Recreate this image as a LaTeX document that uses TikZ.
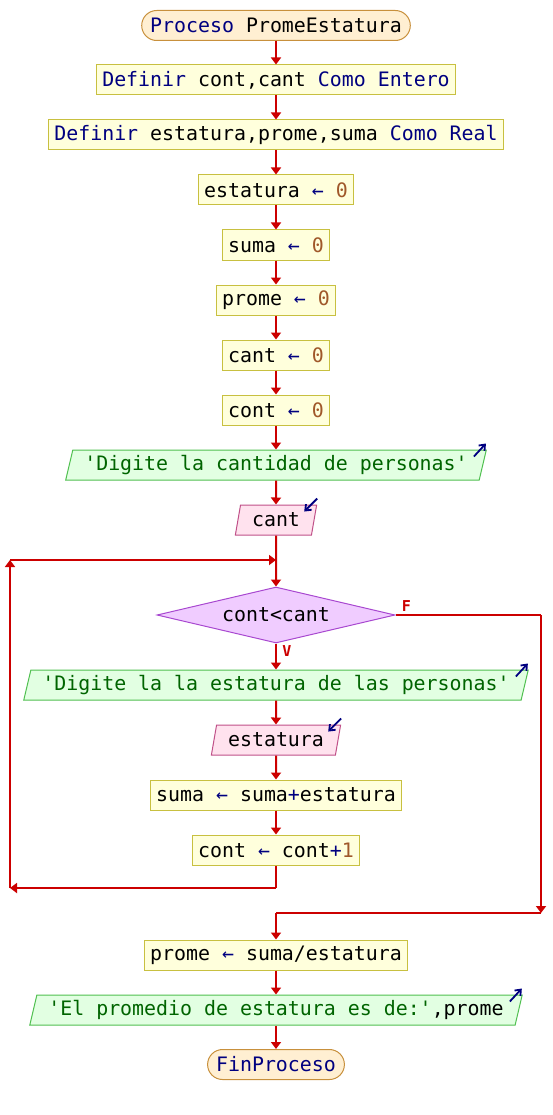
\documentclass[tikz,border=0pt]{standalone}
\usepackage{fontspec}
\setmonofont{DejaVu Sans Mono}
\usetikzlibrary{arrows.meta,shapes.geometric}

\definecolor{rojoflecha}{HTML}{CC0000}
\definecolor{azulkw}{HTML}{000080}
\definecolor{verdecad}{HTML}{006400}
\definecolor{marronnro}{HTML}{A0582A}
\definecolor{procfondo}{HTML}{FFEFD2}
\definecolor{procborde}{HTML}{C8903C}
\definecolor{asigfondo}{HTML}{FFFFDC}
\definecolor{asigborde}{HTML}{C8C040}
\definecolor{salfondo}{HTML}{E2FFE2}
\definecolor{salborde}{HTML}{50C050}
\definecolor{entfondo}{HTML}{FFE2EE}
\definecolor{entborde}{HTML}{C05088}
\definecolor{decfondo}{HTML}{F0CCFF}
\definecolor{decborde}{HTML}{A848D0}

\newcommand{\kw}[1]{\textcolor{azulkw}{#1}}
\newcommand{\cad}[1]{\textcolor{verdecad}{#1}}
\newcommand{\nro}[1]{\textcolor{marronnro}{#1}}
\newcommand{\asig}{\textcolor{azulkw}{←}}
\newcommand{\cita}{\textquotesingle}

\tikzset{
  base/.style={font=\ttfamily\fontsize{19.9}{24}\selectfont, minimum height=30pt,
    inner xsep=6pt, inner ysep=0pt, line width=1pt},
  proceso/.style={base, inner xsep=8.5pt, rounded corners=15pt, draw=procborde, fill=procfondo},
  asigna/.style={base, draw=asigborde, fill=asigfondo},
  paralelo/.style={base, trapezium, trapezium left angle=70, trapezium right angle=110,
    trapezium stretches body, inner xsep=11.5pt},
  salida/.style={paralelo, draw=salborde, fill=salfondo},
  entrada/.style={paralelo, draw=entborde, fill=entfondo},
  decision/.style={base, diamond, aspect=4.25, minimum width=238pt, minimum height=56pt,
    inner sep=0pt, draw=decborde, fill=decfondo},
  linea/.style={draw=rojoflecha, line width=2pt},
  flecha/.style={linea, -{Triangle[length=7pt,width=10pt]}},
  indica/.style={draw=azulkw, line width=1.8pt, -{Straight Barb[length=5pt,width=8pt]}},
  rotulo/.style={text=rojoflecha, font=\ttfamily\bfseries\fontsize{15}{17}\selectfont}
}

\begin{document}
\begin{tikzpicture}[x=1pt, y=-1pt]
    \useasboundingbox (0,0) rectangle (552,1115);

    % --- Cabecera y definiciones ---
    \node[proceso] (ini) at (276,25.5) {\kw{Proceso} PromeEstatura};
    \node[asigna] (def1) at (276,80) {\kw{Definir} cont,cant \kw{Como Entero}};
    \node[asigna] (def2) at (276,135) {\kw{Definir} estatura,prome,suma \kw{Como Real}};

    % --- Inicializaciones ---
    \node[asigna] (a1) at (276,190) {estatura \asig{} \nro{0}};
    \node[asigna] (a2) at (276,245) {suma \asig{} \nro{0}};
    \node[asigna] (a3) at (276,300) {prome \asig{} \nro{0}};
    \node[asigna] (a4) at (276,355) {cant \asig{} \nro{0}};
    \node[asigna] (a5) at (276,410) {cont \asig{} \nro{0}};

    % --- Lectura de la cantidad ---
    \node[salida] (s1) at (276,465) {\cad{\cita Digite la cantidad de personas\cita}};
    \node[entrada] (e1) at (276,520) {cant};

    % --- Ciclo Mientras ---
    \node[decision] (cond) at (276,615) {cont<cant};
    \node[salida] (s2) at (276,685) {\cad{\cita Digite la la estatura de las personas\cita}};
    \node[entrada] (e2) at (276,740) {estatura};
    \node[asigna] (a6) at (276,795) {suma \asig{} suma\kw{+}estatura};
    \node[asigna] (a7) at (276,850) {cont \asig{} cont\kw{+}\nro{1}};

    % --- Final ---
    \node[asigna] (a8) at (276,955) {prome \asig{} suma/estatura};
    \node[salida] (s3) at (276,1010) {\cad{\cita El promedio de estatura es de:\cita},prome};
    \node[proceso] (fin) at (276,1064.5) {\kw{FinProceso}};

    % Indicadores de entrada / salida
    \draw[indica] ([shift={(-13,7)}]s1.top right corner) -- ++(12,-13);
    \draw[indica] ([shift={(-13,7)}]s2.top right corner) -- ++(12,-13);
    \draw[indica] ([shift={(-13,7)}]s3.top right corner) -- ++(12,-13);
    \draw[indica] ([shift={(0,-6)}]e1.top right corner) -- ++(-13,13);
    \draw[indica] ([shift={(0,-6)}]e2.top right corner) -- ++(-13,13);

    % --- Flechas principales ---
    \draw[flecha] (ini) -- (def1);
    \draw[flecha] (def1) -- (def2);
    \draw[flecha] (def2) -- (a1);
    \draw[flecha] (a1) -- (a2);
    \draw[flecha] (a2) -- (a3);
    \draw[flecha] (a3) -- (a4);
    \draw[flecha] (a4) -- (a5);
    \draw[flecha] (a5) -- (s1);
    \draw[flecha] (s1) -- (e1);
    \draw[flecha] (e1) -- (cond);
    \draw[flecha] (cond) -- (s2) node[rotulo, pos=0.3, right=2pt] {V};
    \draw[flecha] (s2) -- (e2);
    \draw[flecha] (e2) -- (a6);
    \draw[flecha] (a6) -- (a7);
    \draw[flecha] (a8) -- (s3);
    \draw[flecha] (s3) -- (fin);

    % Retorno del ciclo
    \coordinate (retA) at (276,888);
    \coordinate (retB) at (10,888);
    \coordinate (retC) at (10,560);
    \coordinate (lazo) at (276,560);
    \draw[linea] (a7) -- (retA);
    \draw[flecha] (retA) -- (retB);
    \draw[flecha] (retB) -- (retC);
    \draw[flecha] (retC) -- (lazo);

    % Salida por falso
    \coordinate (derA) at (541,615);
    \coordinate (derB) at (541,913);
    \coordinate (derC) at (276,913);
    \draw[linea] (cond.east) -- (derA);
    \draw[flecha] (derA) -- (derB);
    \draw[linea] (derB) -- (derC);
    \draw[flecha] (derC) -- (a8);
    \node[rotulo] (etqF) at ([shift={(11,-9)}]cond.east) {F};
\end{tikzpicture}
\end{document}
